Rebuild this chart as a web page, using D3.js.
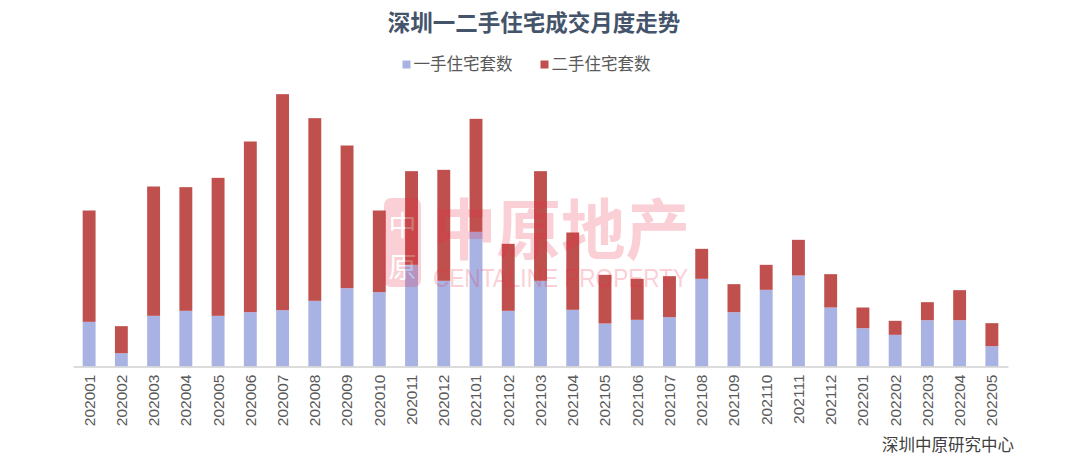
<!DOCTYPE html>
<html><head><meta charset="utf-8">
<script src="https://cdn.jsdelivr.net/npm/d3@7"></script>
<style>body{margin:0;background:#fff;}svg{display:block;}</style>
</head><body>
<svg id="chart" width="1080" height="461"></svg>
<script>
const title = "深圳一二手住宅成交月度走势";
const seriesNames = ["一手住宅套数", "二手住宅套数"];
const months = ["202001","202002","202003","202004","202005","202006","202007","202008","202009","202010","202011","202012",
  "202101","202102","202103","202104","202105","202106","202107","202108","202109","202110","202111","202112",
  "202201","202202","202203","202204","202205"];
const firstHand = [2680,800,3040,3340,3040,3260,3380,3940,4700,4460,6100,5140,
  8080,3340,5140,3400,2580,2800,2960,5260,3260,4600,5460,3540,
  2300,1900,2780,2780,1220];
const secondHand = [6680,1620,7760,7420,8280,10240,12960,10960,8560,4900,5620,6660,
  6780,4020,6580,4640,2920,2460,2460,1800,1680,1500,2140,2000,
  1240,840,1080,1800,1380];
const source = "深圳中原研究中心";

const colors = ["#a8b3e3", "#c0504d"];
const svg = d3.select("#chart");
const font = "'Noto Sans CJK SC', 'Noto Sans', sans-serif";

const x = d3.scaleBand().domain(months).range([73, 1008]).paddingInner(0.6).paddingOuter(0.3);
const y = d3.scaleLinear().domain([0, 18000]).range([366.5, 66.5]);

const data = months.map((m, i) => ({month: m, a: firstHand[i], b: secondHand[i]}));
const stack = d3.stack().keys(["a", "b"])(data);

svg.append("g").selectAll("g").data(stack).join("g")
  .attr("fill", (d, i) => colors[i])
  .selectAll("rect").data(d => d).join("rect")
  .attr("x", d => x(d.data.month))
  .attr("width", x.bandwidth())
  .attr("y", d => y(d[1]))
  .attr("height", d => y(d[0]) - y(d[1]));

// axis
const xAxis = svg.append("g").attr("transform", "translate(0,366.5)")
  .call(d3.axisBottom(x).tickSize(0).tickPadding(6));
xAxis.select(".domain").attr("stroke", "#d0d0d0").attr("stroke-width", 1.5);
xAxis.selectAll("text")
  .attr("transform", "rotate(-90)")
  .attr("x", -8).attr("y", 0).attr("dy", "0.35em")
  .style("text-anchor", "end")
  .attr("fill", "#595959")
  .style("font-family", "'Liberation Sans', Arial, sans-serif")
  .style("font-size", "15.5px");

// watermark
const wm = svg.append("g").attr("opacity", 0.22).attr("fill", "#ec2a45");
wm.append("rect").attr("x", 384).attr("y", 198).attr("width", 37).attr("height", 89).attr("rx", 7);
wm.append("text").attr("x", 402.5).attr("y", 236).attr("text-anchor", "middle")
  .attr("fill", "#fff").style("font-family", font).style("font-size", "28px").text("中");
wm.append("text").attr("x", 402.5).attr("y", 278).attr("text-anchor", "middle")
  .attr("fill", "#fff").style("font-family", font).style("font-size", "28px").text("原");
wm.append("text").attr("x", 432).attr("y", 254)
  .attr("textLength", 258).attr("lengthAdjust", "spacingAndGlyphs")
  .style("font-family", font).style("font-size", "66px").style("font-weight", "bold").text("中原地产");
wm.append("text").attr("x", 433).attr("y", 287)
  .attr("textLength", 255).attr("lengthAdjust", "spacingAndGlyphs")
  .style("font-family", "'Liberation Sans', Arial, sans-serif").style("font-size", "26px").text("CENTALINE PROPERTY");

// title
svg.append("text").attr("x", 534).attr("y", 31).attr("text-anchor", "middle")
  .attr("fill", "#44546a").style("font-family", font).style("font-size", "22.5px").style("font-weight", "bold")
  .text(title);

// legend
const legendX = [402.5, 540.5];
const lg = svg.append("g").selectAll("g").data(seriesNames).join("g")
  .attr("transform", (d, i) => `translate(${legendX[i]},64.5)`);
lg.append("rect").attr("x", 0).attr("y", -4).attr("width", 8).attr("height", 8).attr("fill", (d, i) => colors[i]);
lg.append("text").attr("x", 11).attr("y", 0).attr("dy", "0.36em")
  .attr("fill", "#595959").style("font-family", font).style("font-size", "16.5px").text(d => d);

// source
svg.append("text").attr("x", 1014).attr("y", 451).attr("text-anchor", "end")
  .attr("fill", "#404040").style("font-family", font).style("font-size", "16.5px").text(source);
</script>
</body></html>
